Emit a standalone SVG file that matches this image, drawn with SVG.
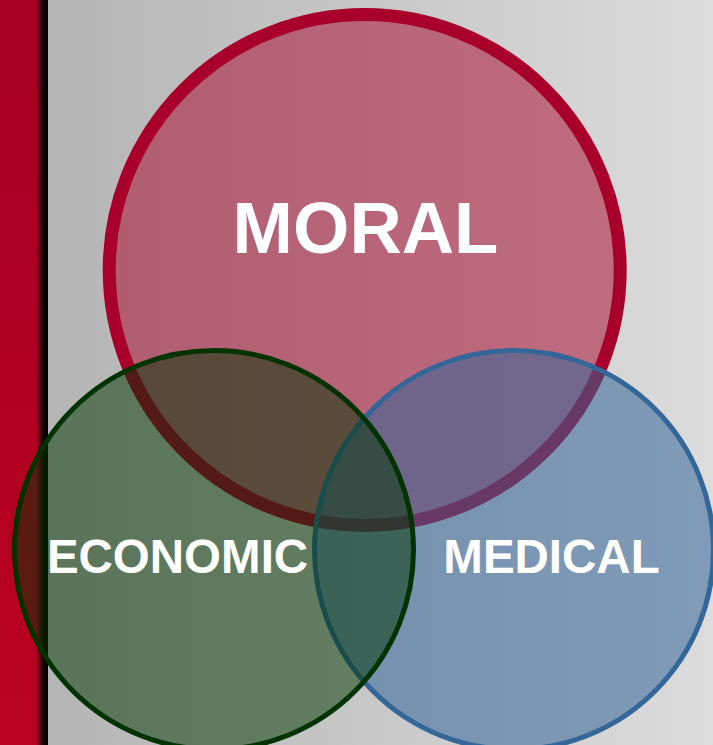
<svg xmlns="http://www.w3.org/2000/svg" width="713" height="745" viewBox="0 0 713 745">
  <defs>
    <linearGradient id="bg" x1="0" y1="0" x2="1" y2="0">
      <stop offset="0" stop-color="#b2b2b2"/>
      <stop offset="1" stop-color="#dcdcdc"/>
    </linearGradient>
    <linearGradient id="bar" x1="0" y1="0" x2="0" y2="1">
      <stop offset="0" stop-color="#a60022"/>
      <stop offset="1" stop-color="#bb0222"/>
    </linearGradient>
    <linearGradient id="shadow" x1="0" y1="0" x2="1" y2="0">
      <stop offset="0" stop-color="#000" stop-opacity="0"/>
      <stop offset="0.6" stop-color="#000" stop-opacity="0.9"/>
      <stop offset="1" stop-color="#000" stop-opacity="1"/>
    </linearGradient>
  </defs>
  <style>
    .lbl { font-family: "Liberation Sans", Arial, sans-serif; font-weight: bold; fill: #ffffff; text-anchor: middle; }
  </style>
  <rect x="0" y="0" width="713" height="745" fill="url(#bg)"/>
  <rect x="0" y="0" width="48" height="745" fill="url(#bar)"/>
  <rect x="36" y="0" width="12" height="745" fill="url(#shadow)"/>
  <g id="moral">
    <circle cx="364.7" cy="270" r="255.5" fill="#a8002a" fill-opacity="0.5" stroke="#a8002a" stroke-width="13"/>
    <text class="lbl" x="365.5" y="253" font-size="72.5">MORAL</text>
  </g>
  <g id="medical">
    <circle cx="514" cy="550" r="199.5" fill="#336699" fill-opacity="0.55" stroke="#336699" stroke-width="5"/>
    <text class="lbl" x="551.5" y="573" font-size="47.5">MEDICAL</text>
  </g>
  <g id="economic">
    <circle cx="214" cy="550" r="199.5" fill="#003300" fill-opacity="0.5" stroke="#003300" stroke-width="5"/>
    <text class="lbl" x="177.5" y="573" font-size="47.5">ECONOMIC</text>
  </g>
  <g id="connectors"/>
</svg>
